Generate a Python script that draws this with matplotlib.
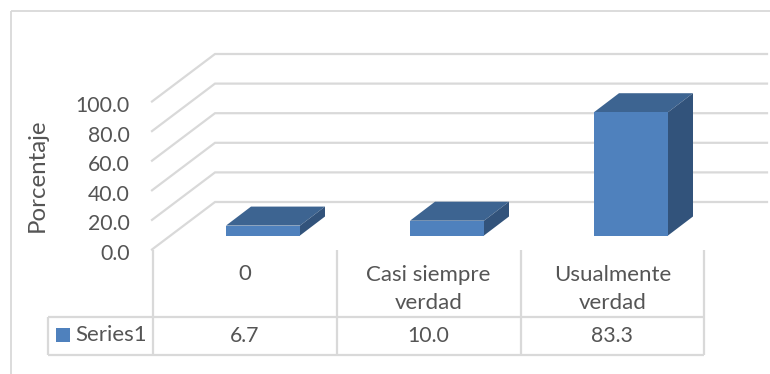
import matplotlib
matplotlib.use("Agg")
import matplotlib.pyplot as plt
from matplotlib.patches import Polygon, Rectangle

categories = ["0", "Casi siempre\nverdad", "Usualmente\nverdad"]
values = [6.7, 10.0, 83.3]
axis_ticks = [0, 20, 40, 60, 80, 100]
series_name = "Series1"
axis_title = "Porcentaje"

W, H = 770, 374
GRID = "#D9D9D9"
TEXT = "#555555"
FRONT, TOP, SIDE = "#4F81BD", "#3D6491", "#32537B"
FONT = "Lato"
FS_NUM = 15.3
FS = 16.0
FS_TITLE = 17.3

PX_PER_UNIT = 1.48      # vertical pixels for one percentage point
BAR_BASE = 235.5        # pixel row of the bar feet
BAR_STEP = 184.0        # pixel distance between categories
BAR_FIRST = 263.0       # pixel column of the first bar centre
BAR_W = 74.0
DEPTH_X, DEPTH_Y = 25.0, 19.0

fig = plt.figure(figsize=(W / 100, H / 100), dpi=100)
fig.patch.set_facecolor("white")

# Axes filling the figure: x in category index, y in percent.
ax = fig.add_axes([0, 0, 1, 1])
ax.set_xlim(-BAR_FIRST / BAR_STEP, (W - BAR_FIRST) / BAR_STEP)
ax.set_ylim((BAR_BASE - H) / PX_PER_UNIT, BAR_BASE / PX_PER_UNIT)
ax.axis("off")

# Overlay in pixel coordinates for the frame and the data table.
ov = fig.add_axes([0, 0, 1, 1])
ov.set_xlim(0, W)
ov.set_ylim(H, 0)
ov.axis("off")
ov.patch.set_alpha(0)


def gline(xs, ys, lw=1.6, z=1):
    ov.plot(xs, ys, color=GRID, lw=lw, solid_capstyle="butt", zorder=z)


# Chart frame
gline([11, 11], [374, 11], lw=1.3)
gline([11, 770], [11, 11], lw=1.3)

# Walls and gridlines
for t in axis_ticks:
    front_y = 249.5 - t * PX_PER_UNIT
    back_y = front_y - 47.5
    ax.plot(
        [(152 - BAR_FIRST) / BAR_STEP, (215 - BAR_FIRST) / BAR_STEP, (767 - BAR_FIRST) / BAR_STEP],
        [(BAR_BASE - front_y) / PX_PER_UNIT, (BAR_BASE - back_y) / PX_PER_UNIT, (BAR_BASE - back_y) / PX_PER_UNIT],
        color=GRID, lw=1.6, zorder=1, solid_joinstyle="miter",
    )
    ov.text(130, front_y + 4.5, f"{t:.1f}", ha="right", va="center",
            family=FONT, fontsize=FS_NUM, color=TEXT)

# Bars with their top and side faces
dx = DEPTH_X / BAR_STEP
dy = DEPTH_Y / PX_PER_UNIT
half = BAR_W / 2 / BAR_STEP
for i, v in enumerate(values):
    l, r = i - half, i + half
    ax.add_patch(Polygon([(l, v), (r, v), (r + dx, v + dy), (l + dx, v + dy)],
                         facecolor=TOP, edgecolor="none", zorder=3))
    ax.add_patch(Polygon([(r, 0), (r + dx, dy), (r + dx, v + dy), (r, v)],
                         facecolor=SIDE, edgecolor="none", zorder=3))
    ax.add_patch(Rectangle((l, 0), r - l, v, facecolor=FRONT, edgecolor="none", zorder=4))

# Data table
col_edges = [152.5, 336.5, 520.5, 704]
for x in col_edges:
    gline([x, x], [250, 355])
gline([48, 48], [317, 355])
gline([48, 704], [317, 317])
gline([48, 704], [355, 355])

ov.add_patch(Rectangle((56, 328), 14, 14, facecolor=FRONT, edgecolor="none"))
ov.text(75, 335, series_name, ha="left", va="center", family=FONT, fontsize=FS, color=TEXT)

for left, right, cat, v in zip(col_edges[:-1], col_edges[1:], categories, values):
    cx = (left + right) / 2
    ov.text(cx, 289 if "\n" in cat else 274, cat, ha="center", va="center", family=FONT,
            fontsize=FS, color=TEXT, linespacing=1.52)
    ov.text(cx, 336, f"{v:.1f}", ha="center", va="center", family=FONT, fontsize=FS_NUM, color=TEXT)

ov.text(37, 175, axis_title, rotation=90, ha="center", va="center",
        family=FONT, fontsize=FS_TITLE, color=TEXT)

fig.savefig("out.png", dpi=100)
